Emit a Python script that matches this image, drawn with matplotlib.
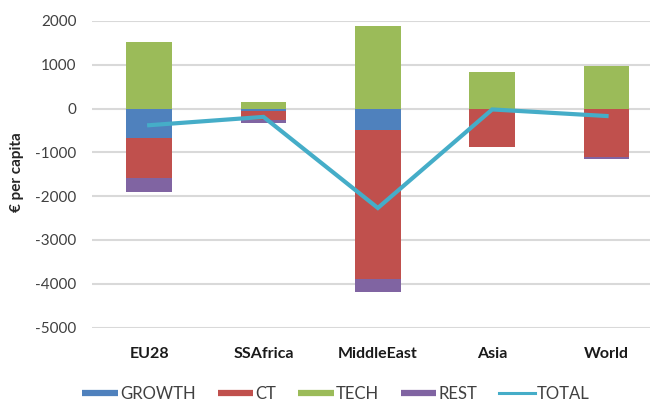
import numpy as np
import matplotlib
matplotlib.use("Agg")
import matplotlib.pyplot as plt
from matplotlib.lines import Line2D

plt.rcParams['font.family'] = ['Lato', 'DejaVu Sans']

categories = ["EU28", "SSAfrica", "MiddleEast", "Asia", "World"]
growth = [-670, -60, -490, 0, 0]
ct = [-910, -200, -3410, -870, -1100]
tech = [1530, 150, 1890, 840, 980]
rest = [-330, -80, -280, 0, -50]
total = [-380, -190, -2270, -20, -170]
yticks = [2000, 1000, 0, -1000, -2000, -3000, -4000, -5000]

series = [("GROWTH", growth, "#4F81BD"),
          ("CT", ct, "#C0504D"),
          ("TECH", tech, "#9BBB59"),
          ("REST", rest, "#8064A2")]

fig = plt.figure(figsize=(6.5, 4.03), dpi=100)
ax = fig.add_axes([92 / 650, 1 - 327.5 / 403, 1 - 92 / 650, (327.5 - 21) / 403])

x = np.arange(len(categories))
pos_base = np.zeros(len(categories))
neg_base = np.zeros(len(categories))
for name, vals, col in series:
    v = np.array(vals, dtype=float)
    bottom = np.where(v >= 0, pos_base, neg_base)
    ax.bar(x, v, bottom=bottom, width=0.4, color=col, zorder=2, linewidth=0)
    pos_base += np.where(v >= 0, v, 0)
    neg_base += np.where(v < 0, v, 0)

ax.plot(x, total, color="#45ADC8", lw=3, zorder=3, solid_joinstyle="miter")

ax.set_ylim(-5000, 2000)
ax.set_yticks(yticks)
ax.set_yticklabels([str(t) for t in yticks], color="#404040", fontsize=11)
ax.set_xlim(-0.5, 4.38)
ax.set_xticks(x)
ax.set_xticklabels(categories, fontsize=11.5, fontweight="bold", color="#1a1a1a")
ax.tick_params(axis="y", length=0, pad=11)
ax.tick_params(axis="x", length=0, pad=14)
ax.yaxis.grid(True, color="#d9d9d9", lw=1.5, zorder=0)
for s in ax.spines.values():
    s.set_visible(False)

fig.text(17 / 650, 1 - 172 / 403, "€ per capita", rotation=90, ha="center",
         va="center", fontsize=11, fontweight="bold", color="#262626")

handles = [Line2D([0], [0], color=c, lw=4.5, solid_capstyle="butt") for _, _, c in series]
handles.append(Line2D([0], [0], color="#45ADC8", lw=2.2))
labels = [s[0] for s in series] + ["TOTAL"]
fig.legend(handles, labels, loc="center", bbox_to_anchor=(336 / 650, 1 - 394 / 403),
           ncol=5, frameon=False, fontsize=12, handlelength=2.15,
           handletextpad=0.12, columnspacing=1.3, labelcolor="#404040")

fig.savefig("out.png", dpi=100)
